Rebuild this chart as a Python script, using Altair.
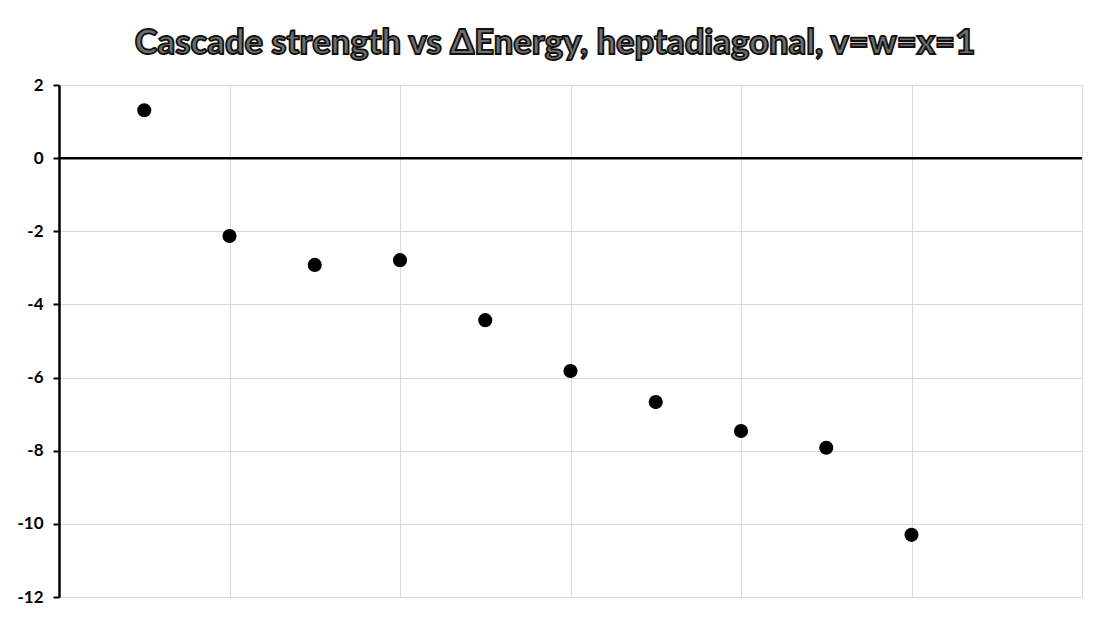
import altair as alt
import pandas as pd

title_text = "Cascade strength vs ΔEnergy, heptadiagonal, v=w=x=1"
x_vals = [0.5, 1.0, 1.5, 2.0, 2.5, 3.0, 3.5, 4.0, 4.5, 5.0]
y_vals = [1.31, -2.13, -2.92, -2.79, -4.43, -5.82, -6.67, -7.46, -7.92, -10.3]
y_ticks = [-12, -10, -8, -6, -4, -2, 0, 2]
x_grid = [1, 2, 3, 4, 5, 6]

df = pd.DataFrame({"x": x_vals, "y": y_vals})

xscale = alt.Scale(domain=[0, 6], nice=False, zero=False)
yscale = alt.Scale(domain=[-12, 2], nice=False)

points = alt.Chart(df).mark_circle(size=200, color="black", opacity=1).encode(
    x=alt.X("x:Q", scale=xscale,
            axis=alt.Axis(values=x_grid, labels=False, ticks=False, domain=False,
                          title=None, grid=True, gridColor="#d9d9d9", gridWidth=1)),
    y=alt.Y("y:Q", scale=yscale,
            axis=alt.Axis(values=y_ticks, title=None, grid=True, gridColor="#d9d9d9",
                          gridWidth=1, domainColor="black", domainWidth=2.5,
                          tickColor="black", tickWidth=2, tickSize=6,
                          labelExpr="'' + datum.value",
                          labelFont="Lato", labelFontWeight="bold", labelFontSize=17,
                          labelColor="black", labelPadding=10)),
)

zero = alt.Chart(pd.DataFrame({"y": [0]})).mark_rule(color="black", strokeWidth=2.5).encode(
    y=alt.Y("y:Q", scale=yscale)
)

title = alt.Chart(pd.DataFrame({"t": [title_text]})).mark_text(
    font="Lato", fontWeight=900, fontSize=34.5, fill="#6f6f6f",
    stroke="#111111", strokeWidth=1.8, align="center", baseline="middle"
).encode(
    text="t:N",
    x=alt.value(496),
    y=alt.value(-41),
)

chart = alt.layer(points, zero, title).properties(
    width=1023, height=512,
    padding={"left": 51, "top": 77, "right": 20, "bottom": 20},
    autosize=alt.AutoSizeParams(type="none"),
).configure_view(stroke=None).configure(background="white")

chart.save("out.html", embed_options={"renderer": "svg", "actions": False})
